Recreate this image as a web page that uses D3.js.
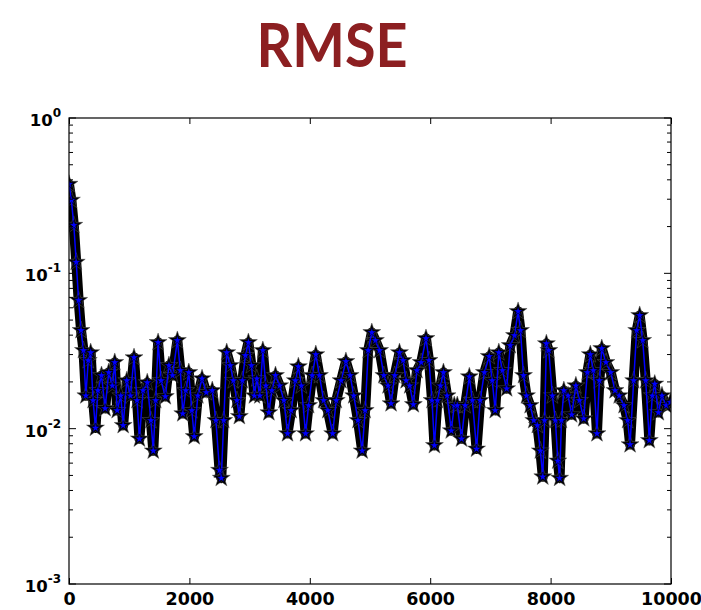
<!DOCTYPE html>
<html>
<head>
<meta charset="utf-8">
<script src="https://cdn.jsdelivr.net/npm/d3@7"></script>
<style>
  html, body { margin: 0; padding: 0; background: #fff; }
  svg { display: block; }
</style>
</head>
<body>
<div id="chart"></div>
<script>
// values
const iterations = [
  0, 40, 80, 120, 160, 200, 240, 280, 320, 360, 400, 440, 480, 540, 600, 660, 720, 760, 800, 860,
  900, 960, 1020, 1080, 1130, 1170, 1230, 1300, 1360, 1400, 1440, 1480, 1530, 1600, 1660, 1720, 1800, 1850, 1890, 1940,
  1990, 2040, 2080, 2140, 2210, 2280, 2380, 2440, 2500, 2530, 2570, 2620, 2680, 2730, 2790, 2830, 2880, 2930, 2980, 3030,
  3080, 3120, 3170, 3220, 3270, 3320, 3370, 3430, 3500, 3570, 3630, 3690, 3760, 3810, 3860, 3930, 3980, 4040, 4100, 4160,
  4230, 4300, 4380, 4440, 4520, 4600, 4670, 4730, 4800, 4870, 4920, 4970, 5030, 5090, 5160, 5230, 5300, 5350, 5410, 5490,
  5550, 5600, 5660, 5720, 5780, 5850, 5930, 5980, 6030, 6070, 6120, 6170, 6220, 6280, 6350, 6400, 6450, 6520, 6580, 6650,
  6700, 6770, 6830, 6900, 6980, 7030, 7080, 7140, 7200, 7270, 7330, 7400, 7460, 7500, 7550, 7600, 7660, 7720, 7780, 7830,
  7870, 7900, 7930, 7970, 8030, 8080, 8120, 8150, 8180, 8220, 8290, 8350, 8420, 8480, 8550, 8610, 8660, 8710, 8770, 8810,
  8850, 8920, 9000, 9070, 9140, 9220, 9280, 9320, 9380, 9430, 9480, 9530, 9580, 9640, 9690, 9730, 9790, 9850, 9920, 9990
];
const rmse = [
  0.375, 0.296, 0.204, 0.118, 0.067, 0.0429, 0.0319, 0.0163, 0.0275, 0.0309, 0.0152, 0.0101, 0.0176, 0.0220, 0.0135, 0.0230, 0.0189, 0.0267, 0.0131, 0.0163,
  0.0105, 0.0204, 0.0163, 0.0287, 0.0152, 0.0086, 0.0176, 0.0198, 0.0113, 0.0072, 0.0152, 0.0359, 0.0204, 0.0161, 0.0255, 0.0220, 0.0370, 0.0237, 0.0125, 0.0176,
  0.0230, 0.0131, 0.0089, 0.0163, 0.0210, 0.0171, 0.0176, 0.0113, 0.0054, 0.0048, 0.0113, 0.0309, 0.0255, 0.0204, 0.0152, 0.0120, 0.0204, 0.0296, 0.0359, 0.0255,
  0.0163, 0.0210, 0.0163, 0.0319, 0.0189, 0.0127, 0.0176, 0.0220, 0.0189, 0.0152, 0.0093, 0.0131, 0.0204, 0.0251, 0.0189, 0.0093, 0.0141, 0.0220, 0.0300, 0.0220,
  0.0152, 0.0131, 0.0093, 0.0152, 0.0204, 0.0271, 0.0220, 0.0163, 0.0113, 0.0072, 0.0131, 0.0319, 0.0416, 0.0370, 0.0319, 0.0220, 0.0189, 0.0145, 0.0220, 0.0309,
  0.0275, 0.0204, 0.0189, 0.0143, 0.0237, 0.0267, 0.0381, 0.0275, 0.0152, 0.0078, 0.0152, 0.0189, 0.0230, 0.0163, 0.0097, 0.0141, 0.0141, 0.0086, 0.0141, 0.0216,
  0.0152, 0.0074, 0.0152, 0.0230, 0.0292, 0.0204, 0.0131, 0.0309, 0.0237, 0.0181, 0.0343, 0.0398, 0.0569, 0.0429, 0.0220, 0.0163, 0.0141, 0.0113, 0.0105, 0.0072,
  0.0049, 0.0113, 0.0353, 0.0319, 0.0163, 0.0113, 0.0062, 0.0048, 0.0113, 0.0176, 0.0163, 0.0123, 0.0189, 0.0152, 0.0116, 0.0230, 0.0300, 0.0237, 0.0093, 0.0204,
  0.0328, 0.0267, 0.0230, 0.0176, 0.0163, 0.0141, 0.0113, 0.0079, 0.0204, 0.0429, 0.0536, 0.0370, 0.0204, 0.0084, 0.0163, 0.0194, 0.0127, 0.0163, 0.0141, 0.0148
];
const xTicks = [0, 2000, 4000, 6000, 8000, 10000];
const yExponents = [-3, -2, -1, 0];
const titleText = 'RMSE';

const W = 701, H = 610;
const margin = { top: 118, left: 69 };
const width = 602;
const height = 466;

const svg = d3.select('#chart')
  .append('svg')
  .attr('width', W)
  .attr('height', H);

// title
svg.append('text')
  .attr('x', 332)
  .attr('y', 67)
  .attr('text-anchor', 'middle')
  .attr('font-family', 'Lato, "Open Sans", sans-serif')
  .attr('font-weight', 700)
  .attr('font-size', 61)
  .attr('textLength', 151)
  .attr('lengthAdjust', 'spacingAndGlyphs')
  .attr('fill', '#8c1f21')
  .text(titleText);

const g = svg.append('g')
  .attr('transform', `translate(${margin.left}, ${margin.top})`);

const x = d3.scaleLinear().domain([0, 10000]).range([0, width]);
const y = d3.scaleLog().domain([1e-3, 1]).range([height, 0]);

const data = iterations.map((it, i) => ({ it, v: rmse[i] }));

g.append('clipPath').attr('id', 'clip')
  .append('rect').attr('width', width).attr('height', height);

const plot = g.append('g').attr('clip-path', 'url(#clip)');

const line = d3.line().x(d => x(d.it)).y(d => y(d.v));

// dense markers merge into a dark band
plot.append('path')
  .datum(data)
  .attr('d', line)
  .attr('fill', 'none')
  .attr('stroke', '#000')
  .attr('stroke-width', 10)
  .attr('stroke-linejoin', 'round')
  .attr('stroke-linecap', 'round');

// star edges poking out of the band
plot.selectAll('path.edge')
  .data(data)
  .enter().append('path')
  .attr('class', 'edge')
  .attr('transform', d => `translate(${x(d.it)}, ${y(d.v)})`)
  .attr('d', d3.symbol(d3.symbolStar).size(100))
  .attr('fill', '#000')
  .attr('stroke', '#555')
  .attr('stroke-width', 0.5);

plot.append('path')
  .datum(data)
  .attr('d', line)
  .attr('fill', 'none')
  .attr('stroke', '#0000ff')
  .attr('stroke-width', 1.5);

plot.selectAll('path.star')
  .data(data)
  .enter().append('path')
  .attr('class', 'star')
  .attr('transform', d => `translate(${x(d.it)}, ${y(d.v)})`)
  .attr('d', d3.symbol(d3.symbolStar).size(26))
  .attr('fill', '#0000ff')
  .attr('stroke', '#000')
  .attr('stroke-width', 0.5);

// frame
g.append('rect')
  .attr('width', width)
  .attr('height', height)
  .attr('fill', 'none')
  .attr('stroke', '#000')
  .attr('stroke-width', 1.2);

// x ticks (inward, bottom and top)
const xAxisBottom = d3.axisBottom(x).tickValues(xTicks).tickSizeInner(-6).tickSizeOuter(0).tickPadding(9)
  .tickFormat(d3.format('d'));
const xb = g.append('g').attr('transform', `translate(0, ${height})`).call(xAxisBottom);
xb.select('.domain').remove();
xb.selectAll('text')
  .attr('font-family', '"DejaVu Sans", sans-serif')
  .attr('font-weight', 'bold')
  .attr('font-size', 17.5)
  .attr('fill', '#000');

const xAxisTop = d3.axisTop(x).tickValues(xTicks).tickSizeInner(-6).tickSizeOuter(0).tickFormat('');
const xt = g.append('g').call(xAxisTop);
xt.select('.domain').remove();

// y ticks: major decades and minor 2..9
const minorVals = [];
yExponents.slice(0, -1).forEach(e => {
  for (let k = 2; k <= 9; k++) minorVals.push(k * Math.pow(10, e));
});
const majorVals = yExponents.map(e => Math.pow(10, e));

[0, width].forEach(px => {
  const dir = px === 0 ? 1 : -1;
  g.selectAll(null).data(majorVals).enter().append('line')
    .attr('x1', px).attr('x2', px + dir * 7)
    .attr('y1', d => y(d)).attr('y2', d => y(d))
    .attr('stroke', '#000').attr('stroke-width', 1);
  g.selectAll(null).data(minorVals).enter().append('line')
    .attr('x1', px).attr('x2', px + dir * 4)
    .attr('y1', d => y(d)).attr('y2', d => y(d))
    .attr('stroke', '#000').attr('stroke-width', 1);
});

// y labels 10^e
const yLabels = g.selectAll('text.ylab')
  .data(yExponents)
  .enter().append('text')
  .attr('class', 'ylab')
  .attr('x', -8)
  .attr('y', e => y(Math.pow(10, e)) + 8)
  .attr('text-anchor', 'end')
  .attr('font-family', '"DejaVu Sans", sans-serif')
  .attr('font-weight', 'bold')
  .attr('font-size', 16.5)
  .attr('fill', '#000');
yLabels.append('tspan').text('10');
yLabels.append('tspan')
  .attr('dy', -9)
  .attr('font-size', 12)
  .text(e => e < 0 ? '-' + Math.abs(e) : String(e));
</script>
</body>
</html>
